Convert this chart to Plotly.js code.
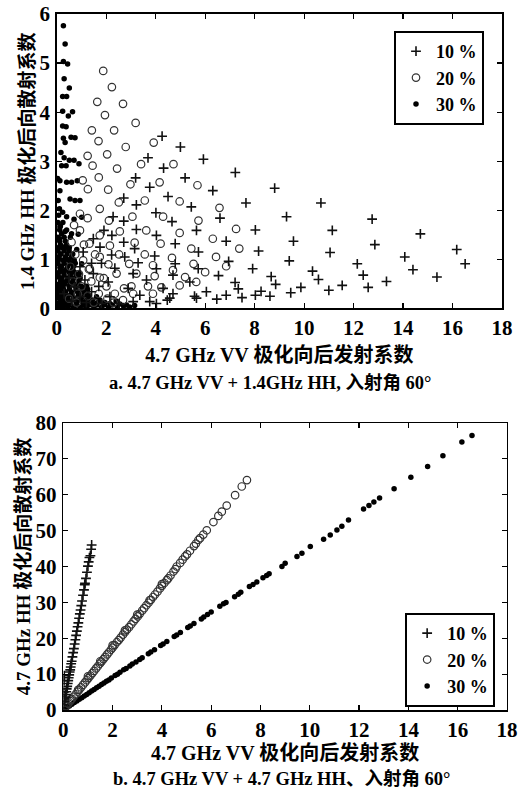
<!DOCTYPE html>
<html>
<head>
<meta charset="utf-8">
<script src="https://cdn.plot.ly/plotly-3.0.1.min.js"></script>
<style>html,body{margin:0;padding:0;background:#fff;}#chart{width:531px;height:795px;}</style>
</head>
<body>
<div id="chart"></div>
<script>
// ---------- data ----------
var seriesNames = ["10 %", "20 %", "30 %"];
var xTickVals = [0, 2, 4, 6, 8, 10, 12, 14, 16, 18];
var yTickValsTop = [0, 1, 2, 3, 4, 5, 6];
var yTickValsBot = [0, 10, 20, 30, 40, 50, 60, 70, 80];

// panel a: 4.7 GHz VV vs 1.4 GHz HH
var topX10 = [4.26,5.00,3.69,5.93,4.32,3.19,5.19,7.22,3.76,6.31,8.81,2.71,4.50,3.22,5.44,7.65,10.68,2.28,4.01,2.71,4.66,6.60,9.29,12.75,1.91,3.22,4.03,5.65,8.03,11.14,14.70,2.23,2.71,4.79,6.85,9.57,12.86,1.48,1.75,3.15,3.96,5.73,8.16,11.05,16.17,14.07,1.07,2.22,2.75,3.29,4.79,6.95,9.40,12.15,16.51,1.41,1.81,0.94,2.35,4.03,5.72,7.92,10.34,14.40,15.37,1.48,3.09,4.70,6.54,8.67,12.39,10.58,13.33,1.14,2.08,3.63,5.38,7.21,8.85,11.54,12.59,9.87,0.74,2.89,4.30,6.05,7.34,11.00,9.46,8.26,1.41,3.36,4.57,5.65,6.85,8.03,8.62,7.49,6.47,2.15,3.76,3.09,0.94,4.03,4.47,5.57,4.70,2.52,1.80,1.20,0.60,0.50,0.30,1.70];
var topY10 = [3.51,3.29,3.07,3.04,2.86,2.66,2.66,2.77,2.47,2.40,2.45,2.25,2.28,2.11,2.07,2.15,2.15,1.87,1.95,1.78,1.77,1.84,1.87,1.82,1.59,1.61,1.49,1.59,1.60,1.59,1.52,1.49,1.35,1.32,1.37,1.37,1.30,1.42,1.25,1.22,1.07,1.15,1.17,1.14,1.20,1.05,1.15,1.09,1.05,0.93,0.91,0.96,0.97,0.91,0.91,0.92,0.92,0.85,0.82,0.81,0.81,0.81,0.76,0.79,0.64,0.71,0.71,0.68,0.67,0.65,0.68,0.59,0.55,0.58,0.54,0.58,0.54,0.53,0.49,0.47,0.43,0.43,0.44,0.41,0.41,0.34,0.40,0.37,0.32,0.35,0.34,0.27,0.21,0.21,0.27,0.27,0.25,0.22,0.19,0.24,0.14,0.14,0.24,0.10,0.17,0.25,0.30,0.10,0.10,0.12,0.15,0.62,0.30,0.45];

var topX20 = [1.88,2.23,1.64,2.68,1.95,3.19,1.42,2.32,1.69,3.92,2.79,2.04,1.25,3.41,4.72,1.45,2.44,1.70,1.05,2.98,4.16,5.69,1.26,2.08,2.51,3.56,4.97,6.58,1.74,0.94,2.11,3.06,4.30,5.73,1.25,2.55,3.62,4.97,7.25,1.74,0.94,3.15,4.20,6.31,1.32,2.15,5.44,7.38,2.52,3.56,4.66,6.44,1.74,1.07,2.93,3.89,5.53,6.85,2.09,1.34,4.70,6.00,2.42,3.22,3.96,5.19,1.74,5.64,4.97,3.69,4.23,2.72,3.02,2.01,3.89,3.09,2.35,2.68,0.60,0.75,0.55,0.90,0.65,1.00,1.40,0.85,1.25,1.70,2.05,0.50,1.55,0.70,1.10,1.30,0.80,1.50,2.30,1.90];
var topY20 = [4.84,4.51,4.21,4.17,3.94,3.78,3.63,3.63,3.41,3.38,3.29,3.14,3.11,2.94,2.94,2.91,2.85,2.67,2.61,2.53,2.57,2.51,2.43,2.42,2.16,2.20,2.18,2.05,2.03,1.93,1.79,1.87,1.87,1.79,1.84,1.57,1.59,1.54,1.62,1.49,1.59,1.34,1.32,1.42,1.32,1.28,1.22,1.22,1.10,1.10,1.03,1.05,1.05,0.98,0.91,0.88,0.91,0.86,0.90,0.81,0.78,0.74,0.71,0.71,0.66,0.64,0.63,0.54,0.47,0.45,0.43,0.41,0.45,0.45,0.30,0.30,0.30,0.17,1.35,1.10,0.85,0.70,0.55,0.45,0.55,0.30,0.25,0.30,0.20,0.20,1.10,1.70,1.30,0.80,0.12,0.12,0.12,0.62];

var topX30 = [0.27,0.34,0.27,0.44,0.30,0.51,0.24,0.40,0.24,0.64,0.47,0.24,0.38,0.58,0.74,0.27,0.34,0.17,0.30,0.51,0.70,0.90,0.20,0.38,0.13,0.40,0.60,0.83,0.13,0.54,0.74,0.94,0.11,0.24,0.40,0.70,1.01,0.13,0.34,0.60,0.87,0.11,0.27,0.51,0.81,0.13,0.40,0.70,1.01,0.13,0.34,0.60,0.91,0.07,0.27,0.54,0.87,1.21,0.11,0.34,0.60,0.94,1.28,1.61,0.07,0.20,0.47,0.81,1.21,1.74,2.15,0.07,0.40,1.07,1.48,2.55,0.07,0.67,2.82,
  0.05,0.25,0.45,0.70,0.95,1.20,1.50,1.80,2.10,0.10,0.30,0.55,0.80,1.05,1.35,1.65,1.95,0.05,0.25,0.45,0.70,1.00,1.30,0.12,0.35,0.60,0.85,1.10,0.05,0.25,0.50,0.75,1.00,0.15,0.40,0.65,0.90,0.05,0.30,0.55,0.80,0.15,0.40,0.65,0.05,0.30,0.55,0.75,0.10,0.35,0.60,0.05,0.30,0.50,0.15,0.40,0.05,0.30,0.55,0.12,0.40,0.05,0.25,0.06,0.04,0.08,0.05,
  0.15,0.35,0.58,0.82,1.08,1.32,1.62,1.92,2.25,2.45,2.70,2.95,3.15,0.20,0.42,0.65,0.92,1.18,1.45,1.75,2.40,0.03,0.18,0.38,0.62,0.88,1.15,0.08,0.28,0.52,0.78,1.02,1.25,0.10,0.32,0.58,0.82,0.20,0.45,0.70,0.95,0.10,0.28,0.50,0.72,0.20,0.45,0.68,0.06,0.25,0.48,0.70,0.18,0.42,0.65,0.08,0.22,0.45,0.12,0.35,0.20,0.15];
var topY30 = [5.76,5.39,5.03,4.98,4.68,4.49,4.32,4.32,4.02,4.01,3.92,3.72,3.70,3.49,3.48,3.47,3.38,3.18,3.07,3.02,3.02,2.95,2.91,2.91,2.60,2.57,2.57,2.60,2.40,2.23,2.20,2.20,2.03,1.96,1.87,1.82,1.86,1.66,1.57,1.52,1.51,1.42,1.25,1.24,1.20,1.11,1.01,0.98,0.91,0.84,0.78,0.74,0.71,0.64,0.54,0.51,0.47,0.45,0.41,0.34,0.30,0.27,0.27,0.24,0.24,0.17,0.14,0.14,0.14,0.14,0.10,0.10,0.07,0.07,0.09,0.09,0.03,0.03,0.07,
  0.02,0.02,0.02,0.02,0.02,0.02,0.02,0.02,0.02,0.12,0.12,0.12,0.12,0.12,0.12,0.12,0.12,0.22,0.22,0.22,0.22,0.22,0.22,0.33,0.33,0.33,0.33,0.33,0.45,0.45,0.45,0.45,0.45,0.56,0.56,0.56,0.56,0.68,0.68,0.68,0.68,0.80,0.80,0.80,0.92,0.92,0.92,0.92,1.05,1.05,1.05,1.18,1.18,1.18,1.30,1.30,1.45,1.45,1.45,1.60,1.60,1.75,1.75,2.20,2.65,1.90,0.30,
  0.07,0.07,0.07,0.07,0.07,0.07,0.07,0.07,0.07,0.03,0.05,0.03,0.06,0.17,0.17,0.17,0.17,0.17,0.17,0.17,0.15,0.28,0.28,0.28,0.28,0.28,0.28,0.39,0.39,0.39,0.39,0.39,0.39,0.50,0.50,0.50,0.50,0.62,0.62,0.62,0.62,0.74,0.74,0.74,0.74,0.86,0.86,0.86,0.98,0.98,0.98,0.98,1.11,1.11,1.11,1.24,1.24,1.24,1.37,1.37,1.52,1.68];

// panel b: 4.7 GHz VV vs 4.7 GHz HH
var botX10 = [0.01,0.02,0.03,0.04,0.05,0.06,0.08,0.10,0.12,0.14,0.16,0.18,0.20,0.22,0.24,0.26,0.28,0.30,0.32,0.34,0.37,0.40,0.43,0.46,0.49,0.52,0.55,0.58,0.61,0.64,0.67,0.70,0.73,0.76,0.80,0.84,0.87,0.88,0.92,0.96,1.00,1.03,1.06,1.10,1.13,1.15];
var botY10 = [1.5,5.0,8.2,9.6,2.4,3.1,3.6,4.3,5.1,5.9,6.6,7.4,8.2,9.0,9.8,10.6,11.2,12.0,12.9,13.6,14.8,16.0,17.1,18.4,19.6,20.8,22.0,23.2,24.3,25.6,26.8,27.9,29.1,30.4,32.0,33.5,34.9,35.3,36.7,38.4,40.1,41.3,42.5,43.0,44.8,46.0];

var botX20 = [0.05,0.12,0.20,0.28,0.35,0.42,0.50,0.58,0.65,0.72,0.80,0.88,0.95,1.02,1.10,1.18,1.25,1.33,1.40,1.48,1.55,1.63,1.70,1.78,1.85,1.93,2.00,2.08,2.17,2.25,2.33,2.42,2.50,2.58,2.67,2.76,2.85,2.93,3.02,3.10,3.20,3.28,3.37,3.46,3.55,3.64,3.72,3.82,3.92,4.00,4.10,4.20,4.26,4.35,4.47,4.55,4.60,4.74,4.84,4.94,5.02,5.14,5.30,5.38,5.48,5.55,5.68,5.82,6.09,6.29,6.43,6.63,6.97,7.24,7.45,0.30,0.60,1.00,1.50,2.00,2.50,3.00,3.50,4.00];
var botY20 = [0.6,1.1,1.8,2.5,3.1,3.7,4.4,5.1,5.7,6.3,7.0,7.7,8.3,8.9,9.6,10.3,10.9,11.6,12.2,12.9,13.5,14.2,14.8,15.5,16.1,16.8,17.4,18.1,18.9,19.5,20.2,21.0,21.7,22.4,23.1,23.9,24.7,25.4,26.1,26.8,27.7,28.4,29.2,29.9,30.7,31.5,32.2,33.0,33.9,34.6,35.4,36.2,36.7,37.5,38.6,39.3,40.0,41.0,41.9,42.8,43.4,44.4,45.7,46.4,47.4,47.9,48.9,50.1,52.4,54.1,55.3,57.0,59.9,62.3,64.1,2.9,5.6,9.4,13.6,18.0,22.2,26.6,30.6,35.1];

var botX30 = [0.05,0.15,0.25,0.35,0.45,0.55,0.65,0.75,0.85,0.95,1.05,1.15,1.25,1.35,1.45,1.55,1.65,1.75,1.85,1.95,2.10,2.20,2.30,2.45,2.55,2.70,2.80,2.95,3.10,3.20,3.45,3.55,3.70,3.95,4.05,4.20,4.50,4.60,4.75,5.05,5.15,5.30,5.60,5.70,5.85,6.00,6.35,6.50,6.60,6.95,7.10,7.20,7.55,7.70,7.85,8.10,8.25,8.35,8.87,9.00,9.48,9.68,10.02,10.56,10.83,11.10,11.30,11.57,12.18,12.40,12.60,12.83,13.42,14.10,14.78,15.40,16.17,16.58];
var botY30 = [0.2,0.7,1.1,1.6,2.1,2.5,3.0,3.4,3.9,4.3,4.8,5.3,5.7,6.2,6.6,7.1,7.5,8.0,8.4,8.9,9.6,10.0,10.5,11.2,11.6,12.3,12.8,13.4,14.1,14.6,15.7,16.2,16.8,18.0,18.4,19.1,20.5,20.9,21.6,23.0,23.4,24.1,25.4,25.9,26.6,27.3,28.9,29.6,30.0,31.6,32.3,32.8,34.4,35.0,35.7,36.9,37.5,38.0,40.0,40.9,42.8,43.7,45.6,47.6,48.8,50.2,51.2,53.0,56.0,57.0,58.0,59.1,61.7,64.9,67.9,70.9,74.7,76.5];

// ---------- styles ----------
var FONT = "'Liberation Serif', 'Noto Sans CJK SC', serif";
var mk10 = {symbol: "cross-thin-open", size: 7, line: {color: "#111", width: 1.6}, color: "#111"};
var mk20 = {symbol: "circle-open", size: 7.5, line: {color: "#333", width: 1.2}, color: "#333"};
var mk30 = {symbol: "circle", size: 5.5, color: "#000", line: {width: 0}};

function tr(x, y, name, mk, xa, ya, lg) {
  return {type: "scatter", mode: "markers", x: x, y: y, name: name, marker: mk,
          xaxis: xa, yaxis: ya, legend: lg, hoverinfo: "skip"};
}

var data = [
  tr(topX30, topY30, seriesNames[2], mk30, "x", "y", "legend"),
  tr(topX20, topY20, seriesNames[1], mk20, "x", "y", "legend"),
  tr(topX10, topY10, seriesNames[0], mk10, "x", "y", "legend"),
  tr(botX30, botY30, seriesNames[2], mk30, "x2", "y2", "legend2"),
  tr(botX20, botY20, seriesNames[1], mk20, "x2", "y2", "legend2"),
  tr(botX10, botY10, seriesNames[0], mk10, "x2", "y2", "legend2")
];

function axis(extra) {
  var a = {showline: true, linecolor: "#000", linewidth: 1.5, mirror: "ticks",
           ticks: "inside", ticklen: 5, tickwidth: 1.2, tickcolor: "#000",
           showgrid: false, zeroline: false, fixedrange: true,
           tickfont: {family: FONT, size: 21, color: "#000", weight: "bold"}};
  for (var k in extra) a[k] = extra[k];
  return a;
}
var titleFont = {family: FONT, size: 20, color: "#000", weight: "bold"};
var yTitleFont = {family: FONT, size: 19, color: "#000", weight: "bold"};
var pad = "\u00a0\u00a0\u00a0\u00a0\u00a0\u00a0\u00a0\u00a0";
var padY = "\u00a0\u00a0\u00a0\u00a0";
var legFont = {family: FONT, size: 18, color: "#000", weight: "bold"};

var layout = {
  width: 531, height: 795,
  margin: {l: 0, r: 0, t: 0, b: 0},
  paper_bgcolor: "#fff", plot_bgcolor: "#fff",
  showlegend: true,
  xaxis: axis({domain: [0.1068, 0.9454], range: [0, 18], tickvals: xTickVals, anchor: "y",
               ticklabelstandoff: 0,
               title: {text: "4.7 GHz VV 极化向后发射系数" + pad, font: titleFont, standoff: 9}}),
  yaxis: axis({domain: [0.612, 0.9824], range: [0, 6], tickvals: yTickValsTop, anchor: "x",
               ticklabelstandoff: 1,
               title: {text: "1.4 GHz HH 极化后向散射系数" + padY, font: yTitleFont, standoff: 0}}),
  xaxis2: axis({domain: [0.1192, 0.9548], range: [0, 18], tickvals: xTickVals, anchor: "y2",
                ticklabelstandoff: 0,
                title: {text: "4.7 GHz VV 极化向后发射系数" + pad, font: titleFont, standoff: 0}}),
  yaxis2: axis({domain: [0.1069, 0.4679], range: [0, 80], tickvals: yTickValsBot, anchor: "x2",
                ticklabelstandoff: 1,
                title: {text: "4.7 GHz HH 极化后向散射系数", font: yTitleFont, standoff: 0}}),
  legend: {x: 0.742, y: 0.961, xanchor: "left", yanchor: "top", traceorder: "reversed",
           bgcolor: "#fff", bordercolor: "#000", borderwidth: 2, font: legFont},
  legend2: {x: 0.763, y: 0.229, xanchor: "left", yanchor: "top", traceorder: "reversed",
            bgcolor: "#fff", bordercolor: "#000", borderwidth: 2, font: legFont},
  annotations: [
    {xref: "paper", yref: "paper", x: 0.51, y: 1 - 383 / 795, xanchor: "center", yanchor: "middle",
     showarrow: false, text: "a. 4.7 GHz VV + 1.4GHz HH, 入射角 60°",
     font: {family: FONT, size: 18.5, color: "#000", weight: "bold"}},
    {xref: "paper", yref: "paper", x: 0.53, y: 1 - 779 / 795, xanchor: "center", yanchor: "middle",
     showarrow: false, text: "b. 4.7 GHz VV + 4.7 GHz HH、入射角 60°",
     font: {family: FONT, size: 18.5, color: "#000", weight: "bold"}}
  ]
};

Plotly.newPlot("chart", data, layout, {staticPlot: true, displayModeBar: false});
</script>
</body>
</html>
